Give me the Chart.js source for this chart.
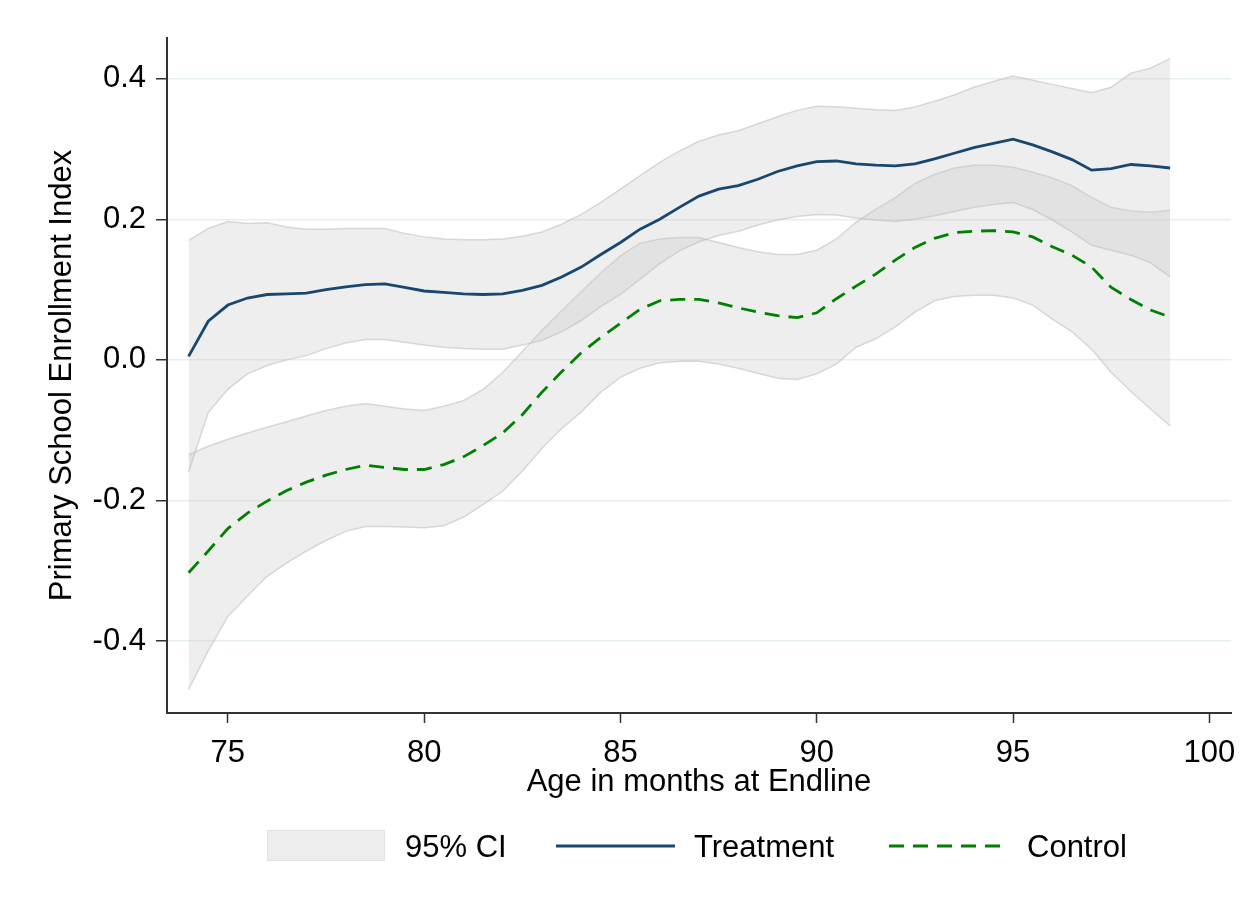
<!DOCTYPE html>
<html>
<head>
<meta charset="utf-8">
<script src="https://cdn.jsdelivr.net/npm/chart.js@4.4.0/dist/chart.umd.min.js"></script>
<style>
    body { margin: 0; background: #fff; }
    #wrap { position: relative; width: 1258px; height: 913px; font-family: "Liberation Sans", Arial, sans-serif; }
    #chart { position: absolute; left: 0; top: 0; }
    .lg { position: absolute; font-size: 31px; color: #000; line-height: 36px; }
</style>
</head>
<body>
<div id="wrap">
    <canvas id="chart" width="1258" height="913"></canvas>
    <div class="lg" style="left:267px;top:830px;width:116px;height:29px;background:#eeeeee;border:1px solid #e2e2e2;"></div>
    <div class="lg" style="left:405px;top:829px;">95% CI</div>
    <svg class="lg" style="left:556px;top:836px;" width="119" height="20"><line x1="0" y1="10" x2="119" y2="10" stroke="#1a476f" stroke-width="2.8"/></svg>
    <div class="lg" style="left:694px;top:829px;">Treatment</div>
    <svg class="lg" style="left:889px;top:836px;" width="119" height="20"><line x1="0" y1="10" x2="119" y2="10" stroke="#008000" stroke-width="2.8" stroke-dasharray="15,9"/></svg>
    <div class="lg" style="left:1027px;top:829px;">Control</div>
</div>
<script>
// age in months at endline
const months = [74, 74.5, 75, 75.5, 76, 76.5, 77, 77.5, 78, 78.5, 79, 79.5, 80, 80.5, 81, 81.5, 82, 82.5, 83, 83.5,
    84, 84.5, 85, 85.5, 86, 86.5, 87, 87.5, 88, 88.5, 89, 89.5, 90, 90.5, 91, 91.5, 92, 92.5, 93, 93.5,
    94, 94.5, 95, 95.5, 96, 96.5, 97, 97.5, 98, 98.5, 99];

const treatment = [0.005, 0.055, 0.078, 0.088, 0.093, 0.094, 0.095, 0.100, 0.104, 0.107, 0.108, 0.103, 0.098, 0.096, 0.094, 0.093, 0.094, 0.099, 0.106, 0.118,
    0.132, 0.150, 0.167, 0.186, 0.200, 0.217, 0.233, 0.243, 0.248, 0.257, 0.268, 0.276, 0.282, 0.283, 0.279, 0.277, 0.276, 0.279, 0.286, 0.294,
    0.302, 0.308, 0.314, 0.306, 0.296, 0.285, 0.270, 0.272, 0.278, 0.276, 0.273];
const treatmentUpper = [0.170, 0.187, 0.197, 0.194, 0.195, 0.189, 0.186, 0.186, 0.187, 0.187, 0.187, 0.180, 0.175, 0.172, 0.171, 0.171, 0.172, 0.176, 0.182, 0.193,
    0.207, 0.224, 0.243, 0.262, 0.281, 0.297, 0.311, 0.320, 0.326, 0.336, 0.346, 0.355, 0.361, 0.360, 0.358, 0.356, 0.355, 0.360, 0.368, 0.377,
    0.388, 0.396, 0.404, 0.398, 0.392, 0.386, 0.380, 0.388, 0.408, 0.415, 0.429];
const treatmentLower = [-0.160, -0.075, -0.042, -0.020, -0.008, 0.000, 0.006, 0.016, 0.024, 0.029, 0.029, 0.025, 0.021, 0.018, 0.016, 0.015, 0.015, 0.021, 0.028, 0.040,
    0.056, 0.076, 0.093, 0.115, 0.137, 0.155, 0.168, 0.177, 0.183, 0.192, 0.199, 0.204, 0.207, 0.206, 0.202, 0.199, 0.197, 0.200, 0.205, 0.211,
    0.217, 0.221, 0.224, 0.214, 0.199, 0.182, 0.163, 0.156, 0.149, 0.138, 0.118];

const control = [-0.303, -0.272, -0.240, -0.218, -0.201, -0.186, -0.174, -0.164, -0.156, -0.150, -0.153, -0.156, -0.156, -0.149, -0.138, -0.122, -0.104, -0.078, -0.046, -0.017,
    0.010, 0.032, 0.052, 0.072, 0.084, 0.086, 0.086, 0.081, 0.074, 0.068, 0.063, 0.060, 0.067, 0.087, 0.105, 0.122, 0.142, 0.160, 0.173, 0.181,
    0.183, 0.184, 0.182, 0.175, 0.161, 0.149, 0.132, 0.103, 0.086, 0.071, 0.061];
const controlUpper = [-0.135, -0.123, -0.113, -0.104, -0.096, -0.088, -0.080, -0.072, -0.066, -0.062, -0.066, -0.070, -0.072, -0.066, -0.058, -0.042, -0.018, 0.012, 0.042, 0.070,
    0.097, 0.124, 0.148, 0.166, 0.172, 0.174, 0.174, 0.167, 0.160, 0.154, 0.150, 0.150, 0.156, 0.172, 0.196, 0.214, 0.231, 0.251, 0.264, 0.273,
    0.277, 0.277, 0.274, 0.267, 0.259, 0.248, 0.231, 0.217, 0.212, 0.210, 0.213];
const controlLower = [-0.469, -0.414, -0.365, -0.336, -0.308, -0.289, -0.272, -0.257, -0.244, -0.237, -0.237, -0.238, -0.239, -0.236, -0.224, -0.206, -0.187, -0.158, -0.126, -0.098,
    -0.074, -0.046, -0.025, -0.012, -0.004, -0.002, -0.002, -0.006, -0.012, -0.019, -0.026, -0.028, -0.020, -0.006, 0.018, 0.030, 0.047, 0.068, 0.084, 0.090,
    0.092, 0.092, 0.088, 0.078, 0.058, 0.040, 0.015, -0.018, -0.045, -0.070, -0.094];

const xTicks = [75, 80, 85, 90, 95, 100];
const yTicks = [-0.4, -0.2, 0, 0.2, 0.4];

function toPoints(values) {
    return values.map((v, i) => ({ x: months[i], y: v }));
}

const ciFill = 'rgba(200, 200, 200, 0.31)';
const ciEdge = 'rgba(190, 190, 190, 0.55)';
const fontFamily = '"Liberation Sans", Arial, sans-serif';

const ctx = document.getElementById('chart').getContext('2d');

// note: dataset 0 is drawn on top, so lines go first
new Chart(ctx, {
    type: 'line',
    data: {
        datasets: [
            { label: 'Treatment', data: toPoints(treatment), borderColor: '#1a476f', borderWidth: 2.8, fill: false },
            { label: 'Control', data: toPoints(control), borderColor: '#008000', borderWidth: 2.8, borderDash: [15, 9], fill: false },
            { label: 'T lower', data: toPoints(treatmentLower), borderColor: ciEdge, borderWidth: 1.5, fill: false },
            { label: 'T upper', data: toPoints(treatmentUpper), borderColor: ciEdge, borderWidth: 1.5, backgroundColor: ciFill, fill: 2 },
            { label: 'C lower', data: toPoints(controlLower), borderColor: ciEdge, borderWidth: 1.5, fill: false },
            { label: 'C upper', data: toPoints(controlUpper), borderColor: ciEdge, borderWidth: 1.5, backgroundColor: ciFill, fill: 4 }
        ]
    },
    options: {
        responsive: false,
        animation: false,
        elements: { point: { radius: 0 }, line: { tension: 0 } },
        layout: { padding: { top: 38, right: 27, bottom: 110, left: 0 } },
        plugins: {
            legend: { display: false },
            tooltip: { enabled: false }
        },
        scales: {
            x: {
                type: 'linear',
                min: 73.45,
                max: 100.55,
                afterBuildTicks: axis => { axis.ticks = xTicks.map(v => ({ value: v })); },
                afterFit: axis => { axis.height = 90; },
                border: { display: true, color: '#333', width: 2 },
                grid: { drawOnChartArea: false, drawTicks: true, tickLength: 10, tickColor: '#333', tickWidth: 1.5 },
                ticks: { color: '#000', font: { family: fontFamily, size: 31 }, padding: 12, maxRotation: 0 },
                title: { display: true, text: 'Age in months at Endline', color: '#000', font: { family: fontFamily, size: 31 }, padding: { top: 0, bottom: 2 } }
            },
            y: {
                type: 'linear',
                min: -0.5025,
                max: 0.458,
                afterBuildTicks: axis => { axis.ticks = yTicks.map(v => ({ value: v })); },
                afterFit: axis => { axis.width = 167; },
                border: { display: true, color: '#333', width: 2 },
                grid: { color: '#e6eff0', lineWidth: 1.5, drawTicks: true, tickLength: 11, tickColor: '#333', tickWidth: 1.5 },
                ticks: {
                    color: '#000',
                    font: { family: fontFamily, size: 31 },
                    padding: 10,
                    callback: v => v.toFixed(1)
                },
                title: { display: true, text: 'Primary School Enrollment Index', color: '#000', font: { family: fontFamily, size: 31 }, padding: { top: 44, bottom: 0 } }
            }
        }
    }
});
</script>
</body>
</html>
